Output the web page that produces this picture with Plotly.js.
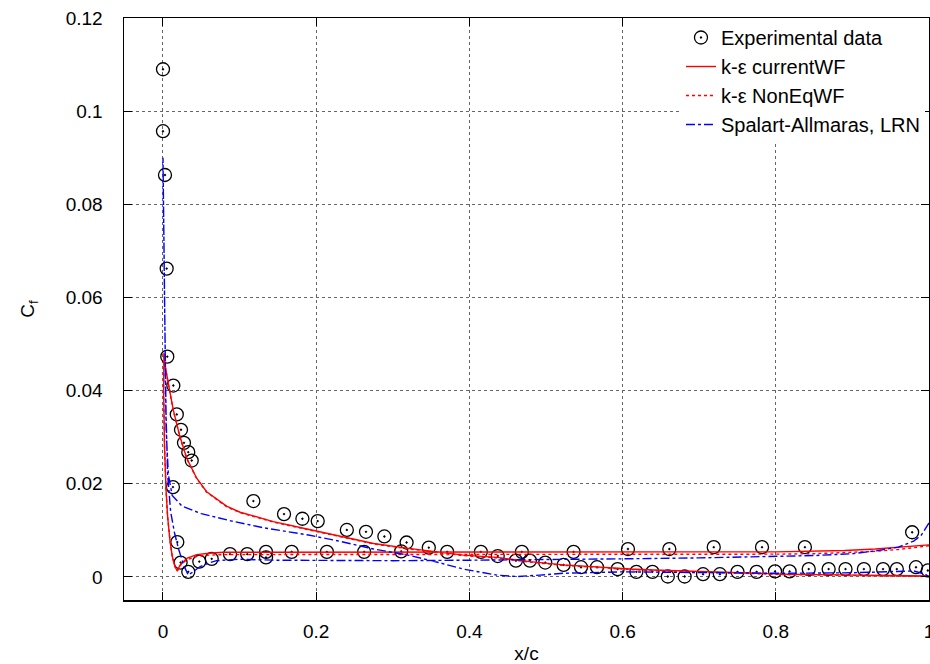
<!DOCTYPE html>
<html>
<head>
<meta charset="utf-8">
<script src="https://cdn.plot.ly/plotly-3.0.1.min.js"></script>
<style>html,body{margin:0;padding:0;background:#fff;}#chart{width:930px;height:664px;}</style>
</head>
<body>
<div id="chart"></div>
<script>
// Experimental data
const expX = [0.000, 0.000, 0.0026, 0.0048, 0.0056, 0.0135, 0.018, 0.0235, 0.0274, 0.033, 0.0375,
  0.118, 0.158, 0.182, 0.202, 0.240, 0.265, 0.289, 0.318, 0.347,
  0.013, 0.0187, 0.023, 0.033, 0.0474, 0.0636, 0.0875, 0.110, 0.1345, 0.1345, 0.168, 0.214, 0.2626, 0.311,
  0.371, 0.415, 0.4685, 0.536, 0.607, 0.661, 0.719, 0.782, 0.838, 0.978,
  0.437, 0.4607, 0.479, 0.499, 0.523, 0.5457, 0.5666, 0.5935, 0.618, 0.639, 0.659, 0.681, 0.705, 0.727,
  0.750, 0.775, 0.799, 0.818, 0.843, 0.869, 0.891, 0.915, 0.940, 0.958, 0.983, 0.9985];
const expCf = [0.1090, 0.0957, 0.0863, 0.0662, 0.0473, 0.0411, 0.0349, 0.0316, 0.0288, 0.0268, 0.0250,
  0.0163, 0.0135, 0.0125, 0.0120, 0.0101, 0.0097, 0.0087, 0.0074, 0.0063,
  0.0193, 0.0075, 0.0031, 0.0011, 0.0033, 0.0039, 0.0049, 0.0049, 0.0054, 0.0042, 0.0054, 0.0054, 0.0054, 0.0055,
  0.0054, 0.0054, 0.0054, 0.0054, 0.0060, 0.0060, 0.0064, 0.0064, 0.0064, 0.0096,
  0.0045, 0.0035, 0.0035, 0.0031, 0.0026, 0.0021, 0.0021, 0.0017, 0.0011, 0.0011, 0.0001, 0.0001, 0.0006, 0.0006,
  0.0011, 0.0011, 0.0012, 0.0012, 0.0017, 0.0017, 0.0017, 0.0017, 0.0017, 0.0017, 0.0021, 0.0014];

// k-eps currentWF (loop: trailing edge -> leading edge -> trailing edge)
const keCurX = [1.0, 0.98, 0.96, 0.93, 0.89, 0.85, 0.8, 0.7, 0.6, 0.5, 0.4, 0.3, 0.2, 0.15, 0.1, 0.079, 0.06, 0.044, 0.031, 0.022, 0.0187, 0.0157, 0.012, 0.009, 0.006, 0.004, 0.002, 0.0008,
  0.0013, 0.003, 0.007, 0.0135, 0.022, 0.031, 0.044, 0.057, 0.083, 0.1007, 0.127, 0.144, 0.188, 0.231, 0.275, 0.318, 0.349, 0.392, 0.436, 0.479, 0.523, 0.567, 0.61, 0.64, 0.728, 0.815, 0.858, 0.93, 1.0];
const keCurCf = [0.0069, 0.0066, 0.0063, 0.0060, 0.0057, 0.0055, 0.0054, 0.0054, 0.0054, 0.0054, 0.0054, 0.0054, 0.0054, 0.0054, 0.0054, 0.0053, 0.0051, 0.0048, 0.0040, 0.0025, 0.0013, 0.0022, 0.0045, 0.0080, 0.0130, 0.0187, 0.0280, 0.0400,
  0.0481, 0.0452, 0.0415, 0.0358, 0.0302, 0.0255, 0.0212, 0.0183, 0.0152, 0.0139, 0.0127, 0.0119, 0.0103, 0.0087, 0.0072, 0.0062, 0.0056, 0.0047, 0.0042, 0.0033, 0.0026, 0.0021, 0.0017, 0.0015, 0.0010, 0.0006, 0.0005, 0.0003, 0.0002];

// k-eps NonEqWF
const keNeqX = [1.0, 0.98, 0.96, 0.93, 0.89, 0.85, 0.8, 0.7, 0.6, 0.5, 0.4, 0.3, 0.2, 0.15, 0.1, 0.079, 0.06, 0.044, 0.031, 0.022, 0.0187, 0.0157, 0.012, 0.009, 0.006, 0.004, 0.002, 0.0008,
  0.0013, 0.003, 0.007, 0.0135, 0.022, 0.031, 0.044, 0.057, 0.083, 0.1007, 0.127, 0.144, 0.188, 0.231, 0.275, 0.318, 0.349, 0.392, 0.436, 0.479, 0.523, 0.567, 0.61, 0.64, 0.728, 0.815, 0.858, 0.93, 1.0];
const keNeqCf = [0.0067, 0.0063, 0.0059, 0.0055, 0.0052, 0.0050, 0.0049, 0.0049, 0.0049, 0.0049, 0.0049, 0.0049, 0.0049, 0.0049, 0.0049, 0.0048, 0.0047, 0.0044, 0.0037, 0.0024, 0.0013, 0.0022, 0.0045, 0.0080, 0.0130, 0.0187, 0.0280, 0.0400,
  0.0480, 0.0451, 0.0414, 0.0357, 0.0301, 0.0254, 0.0211, 0.0182, 0.0151, 0.0138, 0.0126, 0.0118, 0.0102, 0.0086, 0.0071, 0.0061, 0.0055, 0.0046, 0.0041, 0.0032, 0.0025, 0.0020, 0.0016, 0.0014, 0.0009, 0.0005, 0.0004, 0.0002, 0.0001];

// Spalart-Allmaras, LRN
const saX = [1.0, 0.995, 0.99, 0.98, 0.96, 0.93, 0.9, 0.85, 0.8, 0.7, 0.6, 0.5, 0.4, 0.3, 0.2, 0.15, 0.1, 0.07, 0.06, 0.048, 0.04, 0.033, 0.027, 0.02, 0.015, 0.01, 0.006, 0.004, 0.002, 0.0,
  0.001, 0.002, 0.004, 0.007, 0.012, 0.025, 0.05, 0.09, 0.13, 0.19, 0.23, 0.275, 0.32, 0.36, 0.392, 0.436, 0.462, 0.492, 0.523, 0.6, 0.7, 0.8, 0.9, 0.95, 0.98, 0.995, 1.0];
const saCf = [0.0116, 0.0102, 0.0090, 0.0077, 0.0064, 0.0056, 0.0050, 0.0046, 0.0044, 0.0041, 0.0039, 0.0037, 0.0036, 0.0035, 0.0035, 0.0036, 0.0038, 0.0035, 0.0030, 0.0022, 0.0012, 0.0004, 0.0025, 0.0062, 0.0095, 0.0140, 0.0220, 0.0350, 0.0600, 0.0900,
  0.0700, 0.0500, 0.0320, 0.0220, 0.0175, 0.0152, 0.0136, 0.0120, 0.0106, 0.0090, 0.0077, 0.0060, 0.0047, 0.0031, 0.0017, 0.0004, 0.0001, 0.0004, 0.0008, 0.0011, 0.0009, 0.0008, 0.0009, 0.0012, 0.0013, 0.0006, 0.0000];

const labels = ['Experimental data', 'k-ε currentWF', 'k-ε NonEqWF', 'Spalart-Allmaras, LRN'];

const FONT = 'Liberation Sans, Arial, Helvetica, sans-serif';

const traces = [
  {x: expX, y: expCf, name: labels[0], mode: 'markers', marker: {symbol: 'circle-open-dot', size: 13, color: '#000', line: {width: 1.3, color: '#000'}}},
  {x: keCurX, y: keCurCf, name: labels[1], mode: 'lines', line: {color: '#ff0000', width: 1.4}},
  {x: keNeqX, y: keNeqCf, name: labels[2], mode: 'lines', line: {color: '#ff0000', width: 1.4, dash: 'dot'}},
  {x: saX, y: saCf, name: labels[3], mode: 'lines', line: {color: '#0000ff', width: 1.4, dash: 'dashdot'}}
];

const axisCommon = {
  showline: true, linecolor: '#000', linewidth: 1.5, mirror: 'ticks',
  ticks: 'inside', ticklen: 8, tickwidth: 1, tickcolor: '#000',
  showgrid: true, gridcolor: '#666', griddash: 'dot', gridwidth: 1,
  zeroline: false, ticklabeloverflow: 'allow',
  tickfont: {family: FONT, size: 19, color: '#000'}
};

const layout = {
  width: 930, height: 664,
  margin: {l: 124, r: 1, t: 18, b: 64},
  paper_bgcolor: '#fff', plot_bgcolor: '#fff',
  showlegend: true,
  legend: {
    x: 0.995, xanchor: 'right', y: 1, yanchor: 'top',
    bgcolor: '#fff', borderwidth: 0,
    font: {family: FONT, size: 20, color: '#000'},
    traceorder: 'normal'
  },
  xaxis: Object.assign({}, axisCommon, {
    range: [-0.0509, 1.0], tickvals: [0, 0.2, 0.4, 0.6, 0.8, 1], ticktext: ['0', '0.2', '0.4', '0.6', '0.8', '1'],
    ticklabelstandoff: 14,
    title: {text: 'x/c', font: {family: FONT, size: 19, color: '#000'}, standoff: 8}
  }),
  yaxis: Object.assign({}, axisCommon, {
    range: [-0.00494, 0.12], tickvals: [0, 0.02, 0.04, 0.06, 0.08, 0.1, 0.12], ticktext: ['0', '0.02', '0.04', '0.06', '0.08', '0.1', '0.12'],
    ticklabelstandoff: 16,
    title: {text: 'C<sub>f</sub>', font: {family: FONT, size: 19, color: '#000'}, standoff: 26}
  })
};

Plotly.newPlot('chart', traces, layout, {displayModeBar: false, staticPlot: true});
</script>
</body>
</html>
